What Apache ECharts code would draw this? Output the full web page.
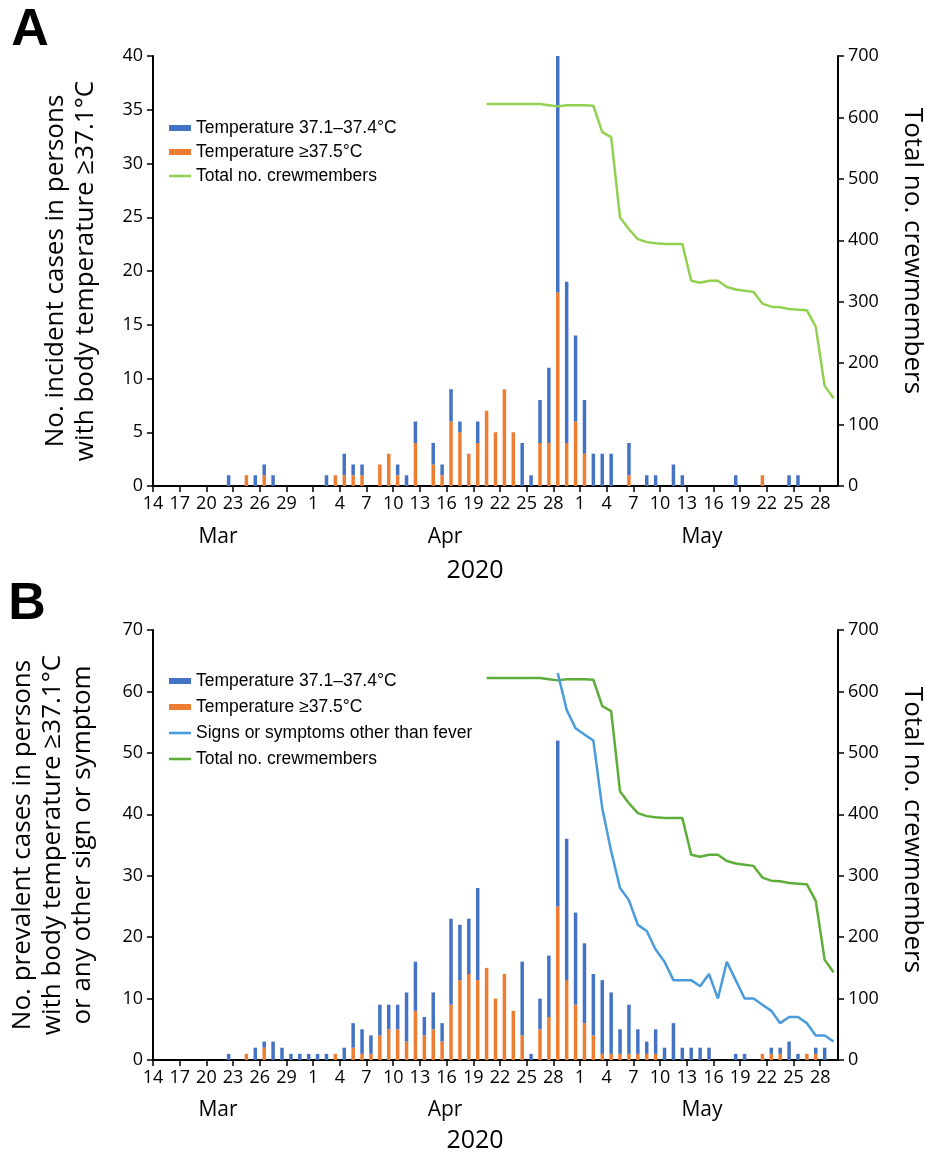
<!DOCTYPE html>
<html><head><meta charset="utf-8">
<script src="https://cdn.jsdelivr.net/npm/echarts@6/dist/echarts.min.js"></script>
<style>html,body{margin:0;padding:0;background:#fff}#c{width:925px;height:1155px}</style>
</head><body><div id="c"></div>
<script>
// ---------- DATA ----------
// 77 daily categories, Mar 14 2020 .. May 29 2020
const nDays = 77;
const dates = [];
for (let i = 0; i < nDays; i++) { const d = new Date(2020, 2, 14 + i); dates.push((d.getMonth() + 1) + '/' + d.getDate()); }
// tick labels every 3 days, on day boundaries
const tickLabels = ['14','17','20','23','26','29','1','4','7','10','13','16','19','22','25','28','1','4','7','10','13','16','19','22','25','28'];
const monthLabels = ['Mar', 'Apr', 'May'];
const yearLabel = '2020';

// Panel A: incident cases
const incidentMild = [
  0,0,0,0,0,0,0,0,1,0,
  0,1,1,1,0,0,0,0,0,1,
  0,2,1,1,0,0,0,1,1,2,
  0,2,1,3,1,0,2,0,0,0,
  0,4,1,4,7,22,15,8,5,3,
  3,3,0,3,0,1,1,0,2,1,
  0,0,0,0,0,1,0,0,0,0,
  0,1,1,0,0,0,0];
const incidentHigh = [
  0,0,0,0,0,0,0,0,0,0,
  1,0,1,0,0,0,0,0,0,0,
  1,1,1,1,0,2,3,1,0,4,
  0,2,1,6,5,3,4,7,5,9,
  5,0,0,4,4,18,4,6,3,0,
  0,0,0,1,0,0,0,0,0,0,
  0,0,0,0,0,0,0,0,1,0,
  0,0,0,0,0,0,0];
const crewTotal = [
  null,null,null,null,null,null,null,null,null,null,
  null,null,null,null,null,null,null,null,null,null,
  null,null,null,null,null,null,null,null,null,null,
  null,null,null,null,null,null,null,622,622,622,
  622,622,622,622,620,618,620,620,620,619,
  576,568,437,418,402,397,395,394,394,394,
  334,331,334,334,324,320,318,316,297,292,
  291,288,287,286,259,163,143];

// Panel B: prevalent cases
const prevalentMild = [
  0,0,0,0,0,0,0,0,1,0,
  0,2,1,3,2,1,1,1,1,1,
  0,2,4,4,3,5,4,4,8,8,
  3,6,3,14,9,9,15,0,0,0,
  0,12,1,5,10,27,23,15,13,10,
  12,10,4,8,4,2,4,2,6,2,
  2,2,2,0,0,1,1,0,0,1,
  1,3,1,0,1,2,0];
const prevalentHigh = [
  0,0,0,0,0,0,0,0,0,0,
  1,0,2,0,0,0,0,0,0,0,
  1,0,2,1,1,4,5,5,3,8,
  4,5,3,9,13,14,13,15,10,14,
  8,4,0,5,7,25,13,9,6,4,
  1,1,1,1,1,1,1,0,0,0,
  0,0,0,0,0,0,0,0,1,1,
  1,0,0,1,1,0,0];
const otherSymptoms = [
  null,null,null,null,null,null,null,null,null,null,
  null,null,null,null,null,null,null,null,null,null,
  null,null,null,null,null,null,null,null,null,null,
  null,null,null,null,null,null,null,null,null,null,
  null,null,null,null,null,63,57,54,53,52,
  41,34,28,26,22,21,18,16,13,13,
  13,12,14,10,16,13,10,10,9,8,
  6,7,7,6,4,4,3];

// ---------- CHART ----------
const FONT = 'Open Sans';
const LEG_FONT = 'Liberation Sans';
const C_MILD = '#4472C4', C_HIGH = '#ED7D31', C_CREW_A = '#92D050', C_CREW_B = '#5DAD3A', C_SYM = '#4A9BDB';
const NAME_MILD = 'Temperature 37.1–37.4°C';
const NAME_HIGH = 'Temperature ≥37.5°C';
const NAME_CREW = 'Total no. crewmembers';
const NAME_SYM = 'Signs or symptoms other than fever';

const tickCats = dates.concat(['5/30']);
const axisLine = { show: true, onZero: false, lineStyle: { color: '#000', width: 2 } };
const axisTick = { show: true, inside: false, length: 6, lineStyle: { color: '#000', width: 1.5 } };
const axisLabelStyle = { color: '#000', fontFamily: FONT, fontSize: 18 };

function xAxesFor(g) {
  return [
    { type: 'category', gridIndex: g, data: dates, boundaryGap: true, show: false },
    { type: 'category', gridIndex: g, data: tickCats, boundaryGap: false, position: 'bottom',
      axisLine: axisLine,
      axisTick: Object.assign({}, axisTick, { interval: 2 }),
      axisLabel: Object.assign({}, axisLabelStyle, { interval: 2, margin: 9,
        formatter: (v, idx) => (idx % 3 === 0 && idx / 3 < tickLabels.length) ? tickLabels[idx / 3] : '' }),
      splitLine: { show: false } }
  ];
}
function leftAxis(g, max, interval, name, gap) {
  return { type: 'value', gridIndex: g, position: 'left', min: 0, max: max, interval: interval,
    axisLine: axisLine, axisTick: axisTick, splitLine: { show: false },
    axisLabel: Object.assign({}, axisLabelStyle, { margin: 10 }),
    name: name, nameLocation: 'middle', nameRotate: 90, nameGap: gap,
    nameTextStyle: { color: '#000', fontFamily: FONT, fontSize: 26, lineHeight: 30 } };
}
function rightAxis(g, shift) {
  return { type: 'value', gridIndex: g, position: 'right', min: 0, max: 700, interval: 100,
    axisLine: axisLine, axisTick: axisTick, splitLine: { show: false },
    axisLabel: Object.assign({}, axisLabelStyle, { margin: 10 }),
    name: NAME_CREW, nameLocation: 'middle', nameRotate: -90, nameGap: 59,
    nameTextStyle: { color: '#000', fontFamily: FONT, fontSize: 26, lineHeight: 30, padding: [0, shift, 0, 0] } };
}
const lineIcon = 'path://M0,0H22V2.6H0Z';
const legendBase = { orient: 'vertical', itemWidth: 22, itemHeight: 6, selectedMode: false,
  textStyle: { fontFamily: LEG_FONT, fontSize: 17.5, color: '#000', lineHeight: 20 } };

const txt = (t, x, y, size, bold) => ({ type: 'text', x: x, y: y,
  style: { text: t, fill: '#000', font: (bold ? 'bold ' : '') + size + 'px "' + (bold ? LEG_FONT : FONT) + '"',
    textAlign: 'center', textVerticalAlign: 'middle' } });

const option = {
  animation: false,
  backgroundColor: '#fff',
  grid: [
    { left: 153, width: 685, top: 56, height: 430, outerBoundsMode: 'none', containLabel: false },
    { left: 153, width: 685, top: 630, height: 430, outerBoundsMode: 'none', containLabel: false }
  ],
  xAxis: xAxesFor(0).concat(xAxesFor(1)),
  yAxis: [
    leftAxis(0, 40, 5, 'No. incident cases in persons\nwith body temperature ≥37.1°C', 52),
    rightAxis(0, 40),
    leftAxis(1, 70, 10, 'No. prevalent cases in persons\nwith body temperature ≥37.1°C\nor any other sign or symptom', 55),
    rightAxis(1, 30)
  ],
  legend: [
    Object.assign({}, legendBase, { left: 164, top: 113, itemGap: 4, data: [
      { name: NAME_MILD, icon: 'rect', itemStyle: { color: C_MILD } },
      { name: NAME_HIGH, icon: 'rect', itemStyle: { color: C_HIGH } },
      { name: NAME_CREW, icon: lineIcon, itemStyle: { color: C_CREW_A } }
    ] }),
    Object.assign({}, legendBase, { left: 164, top: 666, itemGap: 6, data: [
      { name: NAME_MILD, icon: 'rect', itemStyle: { color: C_MILD } },
      { name: NAME_HIGH, icon: 'rect', itemStyle: { color: C_HIGH } },
      { name: NAME_SYM, icon: lineIcon, itemStyle: { color: C_SYM } },
      { name: NAME_CREW, icon: lineIcon, itemStyle: { color: C_CREW_B } }
    ] })
  ],
  series: [
    { name: NAME_CREW, type: 'line', xAxisIndex: 0, yAxisIndex: 1, data: crewTotal, symbol: 'none',
      lineStyle: { color: C_CREW_A, width: 2.5 }, itemStyle: { color: C_CREW_A } },
    { name: NAME_HIGH, type: 'bar', xAxisIndex: 0, yAxisIndex: 0, stack: 'a', data: incidentHigh, barWidth: 3.5,
      itemStyle: { color: C_HIGH } },
    { name: NAME_MILD, type: 'bar', xAxisIndex: 0, yAxisIndex: 0, stack: 'a', data: incidentMild, barWidth: 3.5,
      itemStyle: { color: C_MILD } },

    { name: NAME_CREW, type: 'line', xAxisIndex: 2, yAxisIndex: 3, data: crewTotal, symbol: 'none',
      lineStyle: { color: C_CREW_B, width: 2.5 }, itemStyle: { color: C_CREW_B } },
    { name: NAME_SYM, type: 'line', xAxisIndex: 2, yAxisIndex: 2, data: otherSymptoms, symbol: 'none',
      lineStyle: { color: C_SYM, width: 2.5 }, itemStyle: { color: C_SYM } },
    { name: NAME_HIGH, type: 'bar', xAxisIndex: 2, yAxisIndex: 2, stack: 'b', data: prevalentHigh, barWidth: 3.5,
      itemStyle: { color: C_HIGH } },
    { name: NAME_MILD, type: 'bar', xAxisIndex: 2, yAxisIndex: 2, stack: 'b', data: prevalentMild, barWidth: 3.5,
      itemStyle: { color: C_MILD } }
  ],
  graphic: [
    txt('A', 30, 31, 52, true),
    txt('B', 27, 605, 52, true),
    txt(monthLabels[0], 218, 537, 21), txt(monthLabels[1], 445, 537, 21), txt(monthLabels[2], 702, 537, 21),
    txt(yearLabel, 475, 571, 25),
    txt(monthLabels[0], 218, 1110, 21), txt(monthLabels[1], 445, 1110, 21), txt(monthLabels[2], 702, 1110, 21),
    txt(yearLabel, 475, 1141, 25)
  ]
};
const chart = echarts.init(document.getElementById('c'), null, { width: 925, height: 1155 });
chart.setOption(option);
</script>
</body></html>
